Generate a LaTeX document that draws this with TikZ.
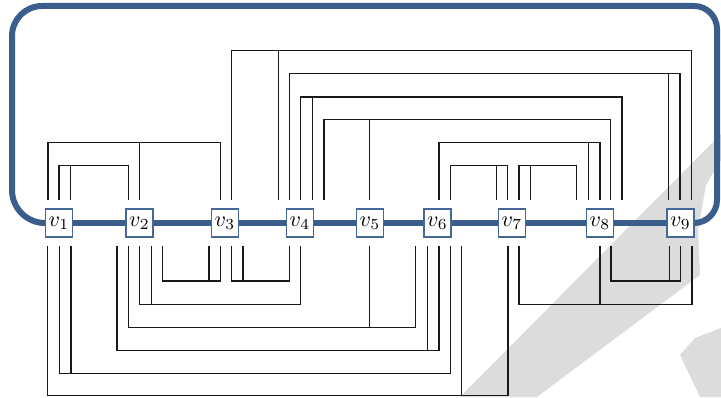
\documentclass[tikz,border=0pt]{standalone}
\usepackage{graphicx}
\usetikzlibrary{calc,backgrounds}
\definecolor{busblue}{RGB}{58,93,140}
\definecolor{boxblue}{RGB}{70,104,152}
\definecolor{wmgray}{RGB}{220,220,220}
\tikzset{
  vert/.style={draw=boxblue, line width=1.8pt, fill=white, minimum width=27pt,
    minimum height=28pt, inner sep=0pt},
  wire/.style={line width=1.2pt, draw=black!90},
  busline/.style={line width=6pt, draw=busblue},
}
\newcommand\vlab[1]{\scalebox{2.2}{$v_{#1}$}}
\newcommand\wirebus[8]{%
  \draw[wire] ($(#1)+(#2,#8)$) coordinate (wa) -- (wa |- #7) -| ($(#3)+(#4,#8)$);
  \draw[wire] ($(#5)+(#6,#8)$) coordinate (wj) -- (wj |- #7);}
\begin{document}
\begin{tikzpicture}[x=1pt,y=1pt]
\useasboundingbox (0,0) rectangle (721,397);
% watermark
\begin{pgfonlayer}{background}
\fill[wmgray] (460,0) -- (721,263) -- (721,237) -- (706,212) -- (698,167) -- (700,122) -- (537,0) -- cycle;
\fill[wmgray] (680,42) -- (695,59) -- (721,69) -- (721,0) -- (700,0) -- cycle;
\end{pgfonlayer}
% levels
\coordinate (U1) at (0,346.3);
\coordinate (U2) at (0,323.3);
\coordinate (U3) at (0,300);
\coordinate (U4) at (0,277.7);
\coordinate (U5) at (0,254.3);
\coordinate (U6) at (0,231.3);
\coordinate (D1) at (0,116);
\coordinate (D2) at (0,92.7);
\coordinate (D3) at (0,69.3);
\coordinate (D4) at (0,46.7);
\coordinate (D5) at (0,23.3);
\coordinate (D6) at (0,1.2);
% vertices
\node[vert] (v1) at (59,174) {\vlab{1}};
\node[vert] (v2) at (139.5,174) {\vlab{2}};
\node[vert] (v3) at (225,174) {\vlab{3}};
\node[vert] (v4) at (300,174) {\vlab{4}};
\node[vert] (v5) at (370,174) {\vlab{5}};
\node[vert] (v6) at (437.5,174) {\vlab{6}};
\node[vert] (v7) at (512,174) {\vlab{7}};
\node[vert] (v8) at (600,174) {\vlab{8}};
\node[vert] (v9) at (680.5,174) {\vlab{9}};
\begin{pgfonlayer}{background}
  \draw[busline] (v1) -- (v9);
  \draw[busline] (v1.west) -- (45,174) arc[start angle=270,end angle=180,radius=33]
    -- (12,361) arc[start angle=180,end angle=90,radius=30]
    -- (694,391) arc[start angle=90,end angle=0,radius=23]
    -- (717,197) arc[start angle=0,end angle=-90,radius=23] -- (v9.east);
\end{pgfonlayer}
% upper wires
\wirebus{v1}{-11}{v3}{-4.3}{v2}{-0.2}{U5}{23}
\wirebus{v1}{0}{v2}{-11.2}{v1}{11.7}{U6}{23}
\wirebus{v3}{6.7}{v9}{11.2}{v4}{-21.7}{U1}{23}
\wirebus{v4}{-10.7}{v9}{-0.5}{v9}{-11.8}{U2}{23}
\wirebus{v4}{0.7}{v8}{22}{v4}{12.3}{U3}{23}
\wirebus{v4}{24}{v8}{10.7}{v5}{-0.3}{U4}{23}
\wirebus{v6}{1.5}{v8}{0}{v8}{-11.7}{U5}{23}
\wirebus{v6}{13.2}{v7}{-4.3}{v7}{-15.3}{U6}{23}
\wirebus{v7}{7}{v8}{-23.3}{v7}{18.7}{U6}{23}
% lower wires
\wirebus{v2}{23.2}{v3}{-4.7}{v3}{-16}{D1}{-23}
\wirebus{v3}{6.7}{v4}{-10.3}{v3}{18}{D1}{-23}
\wirebus{v2}{0.2}{v4}{0.7}{v2}{12.2}{D2}{-23}
\wirebus{v2}{-10.8}{v6}{-21.8}{v5}{-0.7}{D3}{-23}
\wirebus{v2}{-22.5}{v6}{1.5}{v6}{-9.8}{D4}{-23}
\wirebus{v1}{0.7}{v6}{12.8}{v1}{12}{D5}{-23}
\wirebus{v1}{-11.3}{v7}{-4}{v6}{24.2}{D6}{-23}
\wirebus{v8}{11}{v9}{-0.2}{v9}{-11.2}{D1}{-23}
\wirebus{v7}{7}{v9}{11.5}{v8}{0}{D2}{-23}
\end{tikzpicture}
\end{document}
